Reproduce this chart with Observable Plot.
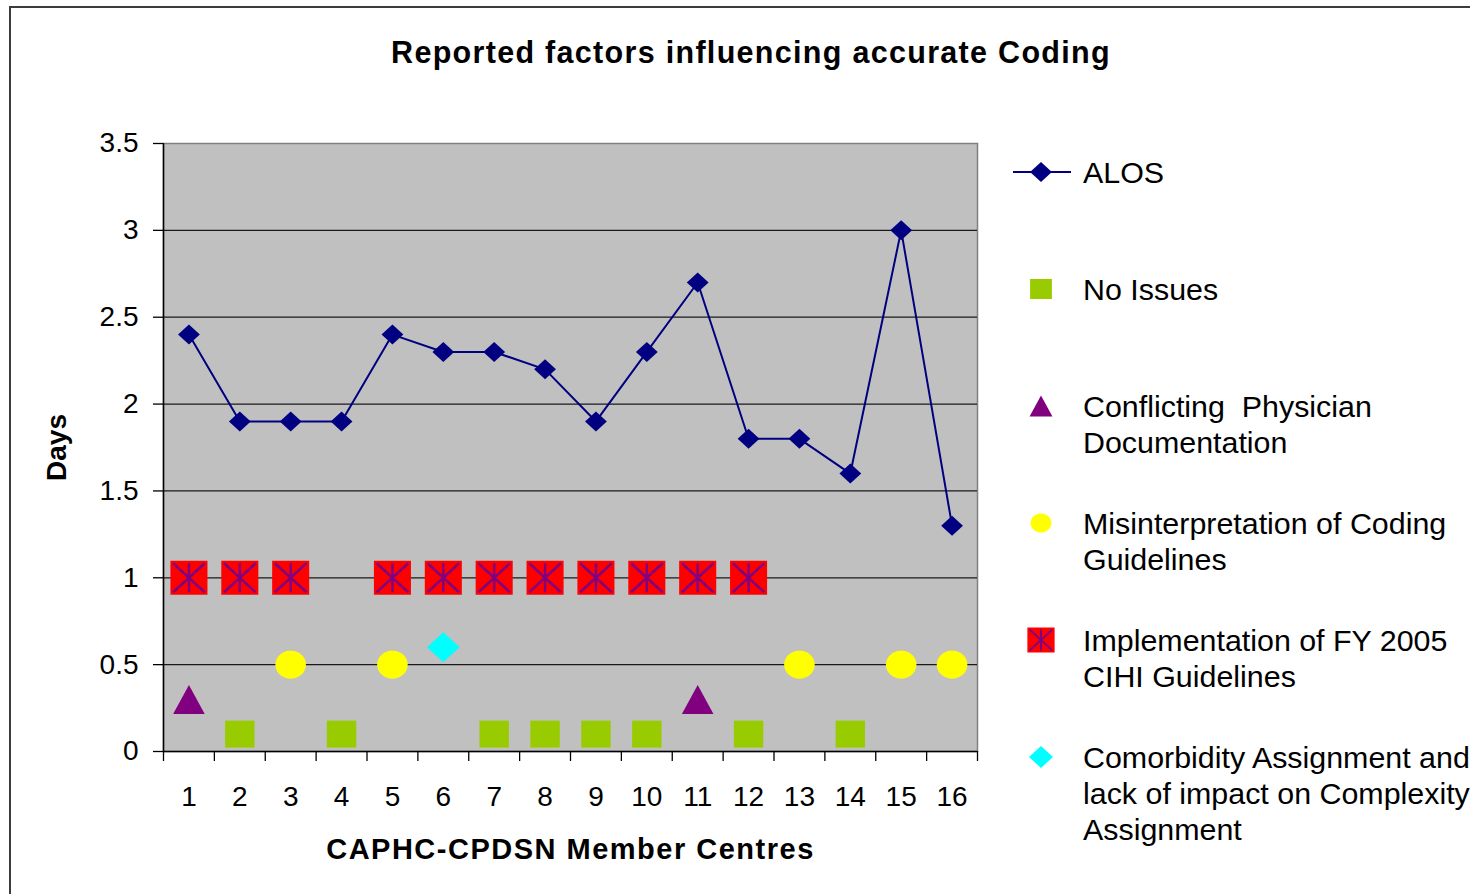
<!DOCTYPE html>
<html><head><meta charset="utf-8">
<script src="https://cdn.jsdelivr.net/npm/d3@7"></script>
<script src="https://cdn.jsdelivr.net/npm/@observablehq/plot@0.6"></script>
<style>
html,body{margin:0;padding:0;width:1470px;height:894px;overflow:hidden;background:#fff;font-family:"Liberation Sans",Arial,sans-serif;}
#page{position:relative;width:1470px;height:894px;overflow:hidden;}
#border{position:absolute;left:9px;top:6px;width:1600px;height:1000px;border:2px solid #3c3c3c;box-sizing:border-box;}
#title{position:absolute;top:33px;left:0;width:1502px;text-align:center;font-weight:bold;font-size:30.5px;letter-spacing:1.3px;line-height:38px;color:#000;}
#chart{position:absolute;left:0;top:90px;}
#legend{position:absolute;left:1011px;top:154px;}
.item{display:flex;height:117px;align-items:flex-start;}
.item svg{flex:none;width:60px;height:36px;margin-right:12px;}
.item .lbl{font-size:30.4px;line-height:36px;white-space:pre;color:#000;}
</style></head><body>
<div id="page">
<div id="border"></div>
<div id="title">Reported factors influencing accurate Coding</div>
<div id="chart"></div>
<div id="legend"></div>
</div>
<script>
// ---- data ----
const centres = [1,2,3,4,5,6,7,8,9,10,11,12,13,14,15,16];
const alos = [2.4,1.9,1.9,1.9,2.4,2.3,2.3,2.2,1.9,2.3,2.7,1.8,1.8,1.6,3.0,1.3];
const noIssuesCentres = [2,4,7,8,9,10,12,14];
const noIssuesValue = 0.1;
const conflictingCentres = [1,11];
const conflictingValue = 0.3;
const misinterpCentres = [3,5,13,15,16];
const misinterpValue = 0.5;
const implementationCentres = [1,2,3,5,6,7,8,9,10,11,12];
const implementationValue = 1;
const comorbidityCentres = [6];
const comorbidityValue = 0.6;
const yTicks = [0,0.5,1,1.5,2,2.5,3,3.5];
const seriesNames = ["ALOS","No Issues","Conflicting  Physician\nDocumentation","Misinterpretation of Coding\nGuidelines","Implementation of FY 2005\nCIHI Guidelines","Comorbidity Assignment and\nlack of impact on Complexity\nAssignment"];
const xTitle = "CAPHC-CPDSN Member Centres";
const yTitle = "Days";

// ---- symbols (slightly wide, like the original markers) ----
const SX = 1.09;
function shape(kind){
  return {draw(ctx, size){
    const h = Math.sqrt(size/Math.PI), w = h*SX;
    if(kind==="square"){ctx.moveTo(-w,-h);ctx.lineTo(w,-h);ctx.lineTo(w,h);ctx.lineTo(-w,h);ctx.closePath();}
    else if(kind==="diamond"){ctx.moveTo(0,-h);ctx.lineTo(w,0);ctx.lineTo(0,h);ctx.lineTo(-w,0);ctx.closePath();}
    else if(kind==="triangle"){ctx.moveTo(0,-h);ctx.lineTo(w,h);ctx.lineTo(-w,h);ctx.closePath();}
    else if(kind==="ellipse"){const n=48;for(let i=0;i<n;i++){const a=2*Math.PI*i/n;const px=w*Math.cos(a),py=h*Math.sin(a);if(i===0)ctx.moveTo(px,py);else ctx.lineTo(px,py);}ctx.closePath();}
    else if(kind==="star"){ctx.moveTo(0,-h);ctx.lineTo(0,h);ctx.moveTo(-w,-h);ctx.lineTo(w,h);ctx.moveTo(-w,h);ctx.lineTo(w,-h);}
  }};
}
const diamondSym = shape("diamond"), squareSym = shape("square"), triSym = shape("triangle"), ellSym = shape("ellipse"), starSym = shape("star");

const NAVY="#000080", GREEN="#99CC00", PURPLE="#800080", YELLOW="#FFFF00", RED="#FF0000", CYAN="#00FFFF";

const alosData = centres.map((c,i)=>({centre:c, days:alos[i]}));
const boundaries = centres.map(c=>c-0.5).concat([centres[centres.length-1]+0.5]);
const gridTicks = yTicks.filter(t=>t>0 && t<3.5);

const chart = Plot.plot({
  width: 1000, height: 790,
  marginLeft: 163, marginRight: 23, marginTop: 53, marginBottom: 129,
  style: {fontFamily:'"Liberation Sans", Arial, sans-serif', fontSize:"28px", color:"#000", background:"transparent", overflow:"visible"},
  x: {type:"linear", domain:[0.5,16.5], axis:null},
  y: {domain:[0,3.5], axis:null},
  marks: [
    Plot.frame({fill:"#c0c0c0", stroke:"#808080", strokeWidth:1.5}),
    Plot.gridY(gridTicks, {stroke:"#1a1a1a", strokeOpacity:1, strokeWidth:1.2}),
    Plot.ruleX([0.5], {stroke:"#000", strokeWidth:1.5}),
    Plot.ruleY([0], {stroke:"#000", strokeWidth:1.5}),
    Plot.axisY({ticks:yTicks, tickSize:10, tickPadding:15, tickFormat:d=>String(d), label:null, strokeWidth:1.3}),
    Plot.axisX({ticks:boundaries, tickSize:10, tickFormat:()=>"", label:null, strokeWidth:1.3}),
    Plot.axisX({ticks:centres, tickSize:0, tickPadding:35, tickFormat:d=>String(d), label:null}),
    Plot.text([yTitle], {frameAnchor:"left", dx:-106, rotate:-90, textAnchor:"middle", lineAnchor:"middle", fontWeight:"bold", fontSize:28, fill:"#000"}),
    Plot.text([xTitle], {frameAnchor:"bottom", dy:98, textAnchor:"middle", lineAnchor:"middle", fontWeight:"bold", fontSize:29, fill:"#000"}),
    Plot.line(alosData, {x:"centre", y:"days", stroke:NAVY, strokeWidth:2}),
    Plot.dot(alosData, {x:"centre", y:"days", symbol:diamondSym, r:10, fill:NAVY}),
    Plot.dot(noIssuesCentres, {x:d=>d, y:()=>noIssuesValue, symbol:squareSym, r:13.5, fill:GREEN}),
    Plot.dot(conflictingCentres, {x:d=>d, y:()=>conflictingValue, symbol:triSym, r:14.5, fill:PURPLE}),
    Plot.dot(misinterpCentres, {x:d=>d, y:()=>misinterpValue, symbol:ellSym, r:14, fill:YELLOW}),
    Plot.dot(implementationCentres, {x:d=>d, y:()=>implementationValue, symbol:squareSym, r:17, fill:RED}),
    Plot.dot(implementationCentres, {x:d=>d, y:()=>implementationValue, symbol:starSym, r:14.5, fill:"none", stroke:PURPLE, strokeWidth:2.5}),
    Plot.dot(comorbidityCentres, {x:d=>d, y:()=>comorbidityValue, symbol:diamondSym, r:15, fill:CYAN})
  ]
});
document.getElementById("chart").appendChild(chart);
d3.select(chart).selectAll("text").filter(function(){return this.textContent===xTitle;}).style("letter-spacing","1.5px");

// ---- legend ----
const legendSwatches = [
  {sym:diamondSym, r:10, fill:NAVY, line:true},
  {sym:squareSym, r:10, fill:GREEN},
  {sym:triSym, r:10.5, fill:PURPLE},
  {sym:ellSym, r:9.5, fill:YELLOW},
  {sym:squareSym, r:12.5, fill:RED, star:true},
  {sym:diamondSym, r:11, fill:CYAN}
];
const legend = d3.select("#legend");
seriesNames.forEach((name,i)=>{
  const s = legendSwatches[i];
  const item = legend.append("div").attr("class","item");
  const svg = item.append("svg").attr("viewBox","-30 -18 60 36");
  if(s.line) svg.append("line").attr("x1",-28).attr("x2",32).attr("y1",0).attr("y2",0).attr("stroke",NAVY).attr("stroke-width",2);
  const p = d3.path(); s.sym.draw(p, Math.PI*s.r*s.r);
  svg.append("path").attr("d",p.toString()).attr("fill",s.fill);
  if(s.star){const q=d3.path(); starSym.draw(q, Math.PI*10.5*10.5); svg.append("path").attr("d",q.toString()).attr("fill","none").attr("stroke",PURPLE).attr("stroke-width",2);}
  const lbl = item.append("div").attr("class","lbl");
  name.split("\n").forEach(line=>lbl.append("div").text(line));
});
</script>
</body></html>
